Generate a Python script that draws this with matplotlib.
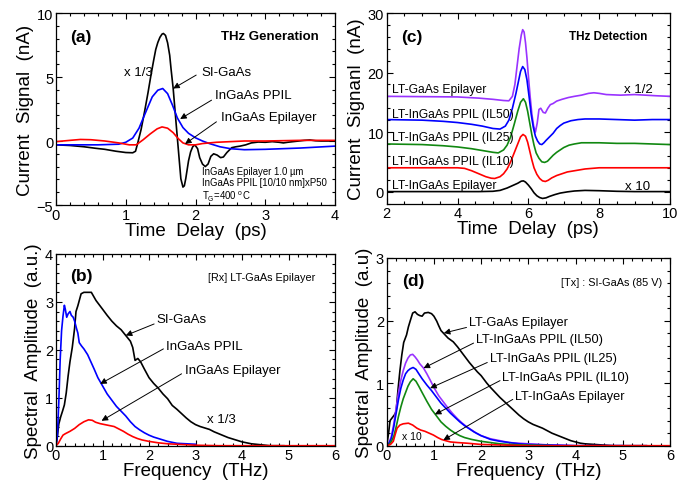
import matplotlib
matplotlib.use("Agg")
import matplotlib.pyplot as plt
from matplotlib.ticker import MultipleLocator

plt.rcParams['font.family'] = ['Liberation Sans', 'DejaVu Sans']
plt.rcParams['mathtext.fontset'] = 'custom'
plt.rcParams['mathtext.rm'] = 'Liberation Sans'

# ---------------- Panel (a): THz generation, time domain ----------------
a_si_gaas = [(0.0, -0.3), (0.2, -0.35), (0.4, -0.45), (0.57, -0.57), (0.7, -0.65), (0.86, -0.8),
             (1.0, -0.9), (1.1, -0.92), (1.14, -0.8), (1.17, -0.2), (1.22, 0.9), (1.27, 2.3),
             (1.32, 3.8), (1.36, 5.1), (1.4, 6.3), (1.43, 7.15), (1.46, 7.7), (1.49, 8.1),
             (1.52, 8.35), (1.54, 8.4), (1.57, 8.25), (1.6, 7.67), (1.63, 6.7), (1.65, 5.6),
             (1.68, 4.1), (1.72, 1.5), (1.76, -1.05), (1.79, -2.95), (1.82, -3.6), (1.84, -3.5),
             (1.86, -2.95), (1.9, -1.55), (1.93, -0.85), (1.96, -0.45), (1.99, -0.3), (2.03, -0.6),
             (2.06, -1.3), (2.1, -1.8), (2.14, -2.0), (2.18, -1.8), (2.22, -1.2), (2.26, -1.0),
             (2.31, -1.1), (2.36, -1.3), (2.4, -1.25), (2.45, -0.9), (2.52, -0.52), (2.58, -0.45),
             (2.64, -0.4), (2.72, -0.3), (2.8, -0.15), (2.9, -0.08), (3.0, -0.1), (3.1, -0.05),
             (3.2, -0.1), (3.26, -0.15), (3.32, -0.1), (3.4, -0.05), (3.48, 0.0), (3.56, 0.05),
             (3.64, 0.08), (3.72, 0.02), (3.8, 0.0), (3.9, 0.0), (4.0, 0.0)]
a_ppil = [(0.0, -0.3), (0.3, -0.3), (0.6, -0.3), (0.9, -0.25), (1.0, -0.1), (1.1, 0.23),
          (1.19, 1.0), (1.29, 2.3), (1.38, 3.45), (1.46, 3.97), (1.53, 4.1), (1.6, 3.7),
          (1.67, 2.8), (1.74, 1.8), (1.82, 1.05), (1.9, 0.6), (2.0, 0.25), (2.1, 0.0),
          (2.2, -0.2), (2.35, -0.45), (2.5, -0.6), (2.7, -0.68), (3.0, -0.65), (3.5, -0.55),
          (4.0, -0.4)]
a_epi = [(0.0, -0.05), (0.2, 0.05), (0.35, 0.12), (0.5, 0.1), (0.7, 0.0), (0.9, -0.15),
         (1.05, -0.3), (1.15, -0.3), (1.25, 0.1), (1.35, 0.55), (1.45, 0.95), (1.52, 1.1),
         (1.6, 1.0), (1.68, 0.65), (1.75, 0.2), (1.82, -0.15), (1.9, -0.3), (2.0, -0.3),
         (2.1, -0.2), (2.3, -0.1), (2.5, -0.05), (2.7, 0.0), (3.0, 0.0), (3.5, 0.05), (4.0, 0.05)]

# ---------------- Panel (b): THz generation spectra ----------------
b_si_gaas = [(0.0, 0.0), (0.03, 0.2), (0.06, 0.45), (0.1, 0.6), (0.14, 0.72), (0.18, 0.85),
             (0.22, 1.1), (0.26, 1.45), (0.3, 1.75), (0.35, 2.05), (0.4, 2.45), (0.43, 2.8),
             (0.47, 2.92), (0.54, 3.17), (0.6, 3.2), (0.7, 3.2), (0.76, 3.2), (0.86, 3.03),
             (1.0, 2.85), (1.1, 2.72), (1.2, 2.6), (1.3, 2.5), (1.4, 2.42), (1.5, 2.3),
             (1.6, 2.18), (1.65, 2.05), (1.7, 1.78), (1.76, 1.82), (1.82, 1.75), (1.9, 1.6),
             (2.0, 1.42), (2.1, 1.3), (2.2, 1.2), (2.3, 1.08), (2.4, 0.98), (2.5, 0.84),
             (2.6, 0.76), (2.7, 0.67), (2.8, 0.58), (2.9, 0.5), (3.0, 0.44), (3.1, 0.4),
             (3.2, 0.37), (3.3, 0.34), (3.4, 0.29), (3.5, 0.25), (3.6, 0.21), (3.7, 0.17),
             (3.8, 0.14), (3.9, 0.11), (4.0, 0.08), (4.1, 0.06), (4.2, 0.04), (4.3, 0.03),
             (4.4, 0.02), (4.5, 0.01), (4.6, 0.0), (4.9, 0.0)]
b_ppil = [(0.0, 0.0), (0.03, 0.2), (0.06, 0.9), (0.09, 1.8), (0.12, 2.4), (0.15, 2.7),
          (0.18, 2.93), (0.2, 2.85), (0.23, 2.68), (0.26, 2.75), (0.3, 2.8), (0.33, 2.72),
          (0.37, 2.68), (0.4, 2.6), (0.44, 2.45), (0.47, 2.35), (0.5, 2.15), (0.55, 2.08),
          (0.6, 2.02), (0.68, 1.9), (0.75, 1.75), (0.82, 1.6), (0.9, 1.42), (1.0, 1.25),
          (1.1, 1.08), (1.2, 0.95), (1.3, 0.82), (1.4, 0.72), (1.5, 0.62), (1.6, 0.5),
          (1.7, 0.4), (1.8, 0.33), (1.9, 0.27), (2.0, 0.22), (2.1, 0.18), (2.2, 0.15),
          (2.3, 0.12), (2.4, 0.09), (2.5, 0.07), (2.6, 0.05), (2.8, 0.04), (3.0, 0.03)]
b_epi = [(0.0, 0.0), (0.05, 0.05), (0.1, 0.14), (0.15, 0.22), (0.2, 0.25), (0.3, 0.3),
         (0.4, 0.36), (0.5, 0.44), (0.6, 0.5), (0.7, 0.54), (0.78, 0.53), (0.85, 0.49),
         (0.95, 0.46), (1.05, 0.44), (1.15, 0.42), (1.25, 0.4), (1.35, 0.35), (1.45, 0.3),
         (1.55, 0.24), (1.65, 0.19), (1.75, 0.15), (1.85, 0.12), (2.0, 0.09), (2.2, 0.06),
         (2.4, 0.04), (2.6, 0.03), (2.8, 0.02), (3.0, 0.01), (3.5, 0.0), (6.0, 0.0)]

# ---------------- Panel (c): THz detection, time domain ----------------
c_ltgaas = [(2.0, 16.0), (3.0, 15.95), (4.0, 15.9), (4.6, 15.7), (5.0, 15.5), (5.3, 15.3),
            (5.45, 15.25), (5.55, 16.0), (5.62, 18.0), (5.68, 21.0), (5.74, 24.0), (5.8, 26.3),
            (5.84, 27.2), (5.88, 26.8), (5.92, 25.0), (5.96, 22.5), (6.0, 19.5), (6.05, 16.0),
            (6.1, 13.0), (6.15, 11.0), (6.2, 10.0), (6.25, 11.5), (6.3, 13.8), (6.35, 14.0),
            (6.42, 13.3), (6.48, 13.2), (6.55, 14.0), (6.62, 14.6), (6.7, 14.8), (6.8, 15.2),
            (6.95, 15.5), (7.13, 15.8), (7.3, 16.0), (7.5, 16.2), (7.7, 16.5), (7.85, 16.6),
            (8.0, 16.5), (8.2, 16.3), (8.6, 16.2), (9.0, 16.3), (9.3, 16.2), (9.6, 16.1),
            (10.0, 16.0)]
c_il50 = [(2.0, 12.1), (3.0, 12.0), (3.6, 11.8), (4.0, 11.6), (4.4, 11.3), (4.7, 11.0),
          (5.0, 10.6), (5.2, 10.5), (5.35, 11.0), (5.45, 12.0), (5.55, 14.0), (5.65, 16.5),
          (5.72, 18.5), (5.78, 20.2), (5.84, 21.0), (5.9, 20.5), (5.96, 18.8), (6.02, 16.0),
          (6.08, 13.0), (6.14, 10.8), (6.2, 9.3), (6.26, 8.5), (6.32, 8.0), (6.38, 7.9),
          (6.44, 8.2), (6.5, 8.6), (6.6, 9.2), (6.7, 9.8), (6.8, 10.6), (6.9, 11.1),
          (7.0, 11.5), (7.2, 11.9), (7.4, 12.1), (7.6, 12.2), (8.0, 12.2), (8.5, 12.1),
          (9.0, 12.0), (9.5, 12.1), (10.0, 12.1)]
c_il25 = [(2.0, 8.0), (3.0, 7.9), (3.6, 7.7), (4.0, 7.5), (4.4, 7.2), (4.8, 6.8), (5.0, 6.6),
          (5.15, 6.5), (5.3, 7.0), (5.4, 7.8), (5.5, 9.2), (5.6, 11.3), (5.7, 13.5), (5.78, 15.0),
          (5.86, 15.6), (5.92, 15.0), (5.98, 13.5), (6.04, 11.5), (6.1, 9.5), (6.16, 7.8),
          (6.22, 6.5), (6.3, 5.6), (6.38, 5.0), (6.46, 4.9), (6.54, 5.1), (6.62, 5.6), (6.7, 6.1),
          (6.8, 6.6), (6.9, 7.0), (7.0, 7.4), (7.15, 7.8), (7.3, 8.0), (7.5, 8.2), (8.0, 8.2),
          (8.5, 8.1), (9.0, 8.1), (9.5, 8.0), (10.0, 7.9)]
c_il10 = [(2.0, 4.0), (3.0, 4.0), (4.0, 4.0), (4.2, 3.9), (4.4, 3.5), (4.6, 3.0), (4.8, 2.5),
          (4.95, 2.25), (5.05, 2.2), (5.2, 2.5), (5.3, 3.0), (5.4, 3.8), (5.5, 5.0), (5.6, 6.5),
          (5.7, 8.0), (5.78, 9.2), (5.85, 9.6), (5.92, 9.3), (5.98, 8.3), (6.04, 6.8),
          (6.1, 5.3), (6.16, 4.0), (6.24, 2.9), (6.32, 2.2), (6.4, 1.8), (6.48, 1.7),
          (6.56, 1.9), (6.66, 2.3), (6.8, 2.7), (6.95, 3.0), (7.1, 3.3), (7.3, 3.5), (7.6, 3.8),
          (8.0, 4.0), (8.5, 4.0), (9.0, 4.0), (10.0, 4.0)]
c_epi = [(2.0, 0.0), (3.0, 0.0), (4.0, 0.0), (4.6, 0.0), (5.0, 0.05), (5.2, 0.2), (5.4, 0.6),
         (5.55, 1.0), (5.7, 1.4), (5.8, 1.75), (5.86, 1.8), (5.92, 1.6), (6.0, 1.1), (6.08, 0.5),
         (6.16, -0.2), (6.24, -0.7), (6.32, -1.0), (6.4, -1.15), (6.5, -1.05), (6.6, -0.8),
         (6.75, -0.5), (6.9, -0.25), (7.1, -0.05), (7.3, 0.1), (7.6, 0.2), (8.0, 0.15),
         (8.5, 0.05), (9.0, 0.0), (10.0, 0.0)]

# ---------------- Panel (d): THz detection spectra ----------------
d_ltgaas = [(0.0, 0.0), (0.04, 0.2), (0.07, 0.4), (0.12, 0.45), (0.17, 0.5), (0.2, 0.55),
            (0.24, 0.9), (0.28, 1.2), (0.32, 1.45), (0.36, 1.65), (0.42, 1.77), (0.46, 1.9),
            (0.5, 2.0), (0.55, 2.12), (0.6, 2.14), (0.65, 2.1), (0.7, 2.08), (0.75, 2.07),
            (0.8, 2.12), (0.88, 2.13), (0.95, 2.11), (1.0, 2.07), (1.06, 1.99), (1.1, 1.92),
            (1.15, 1.84), (1.2, 1.8), (1.3, 1.72), (1.41, 1.66), (1.5, 1.58), (1.62, 1.46),
            (1.7, 1.38), (1.75, 1.33), (1.84, 1.25), (1.92, 1.18), (2.0, 1.12), (2.12, 1.0),
            (2.2, 0.93), (2.3, 0.85), (2.4, 0.77), (2.5, 0.7), (2.6, 0.63), (2.7, 0.56),
            (2.8, 0.49), (2.9, 0.43), (3.0, 0.38), (3.1, 0.34), (3.2, 0.31), (3.3, 0.28),
            (3.4, 0.24), (3.5, 0.2), (3.6, 0.17), (3.7, 0.14), (3.8, 0.11), (3.9, 0.08),
            (4.0, 0.06), (4.1, 0.04), (4.2, 0.03), (4.4, 0.02), (4.6, 0.01), (4.8, 0.0),
            (5.5, 0.0)]
d_il50 = [(0.0, 0.0), (0.05, 0.05), (0.1, 0.15), (0.15, 0.35), (0.2, 0.6), (0.25, 0.85),
          (0.3, 1.05), (0.35, 1.2), (0.4, 1.32), (0.45, 1.4), (0.5, 1.45), (0.55, 1.46),
          (0.6, 1.42), (0.65, 1.37), (0.7, 1.31), (0.78, 1.24), (0.85, 1.15), (0.92, 1.05),
          (1.0, 0.93), (1.1, 0.8), (1.2, 0.7), (1.3, 0.6), (1.4, 0.51), (1.5, 0.43),
          (1.6, 0.36), (1.7, 0.3), (1.8, 0.25), (1.9, 0.2), (2.0, 0.16), (2.2, 0.11),
          (2.4, 0.08), (2.6, 0.05), (2.8, 0.04), (3.0, 0.03), (3.5, 0.01), (4.0, 0.0),
          (5.5, 0.0)]
d_il25 = [(0.0, 0.0), (0.05, 0.04), (0.1, 0.12), (0.15, 0.3), (0.2, 0.52), (0.25, 0.74),
          (0.3, 0.92), (0.35, 1.05), (0.4, 1.15), (0.45, 1.2), (0.5, 1.23), (0.56, 1.25),
          (0.62, 1.22), (0.68, 1.15), (0.75, 1.07), (0.85, 0.97), (0.95, 0.88), (1.05, 0.78),
          (1.15, 0.68), (1.25, 0.6), (1.35, 0.52), (1.45, 0.45), (1.55, 0.38), (1.65, 0.32),
          (1.75, 0.27), (1.85, 0.22), (2.0, 0.16), (2.2, 0.1), (2.4, 0.07), (2.6, 0.05),
          (2.8, 0.03), (3.0, 0.02), (3.5, 0.01), (4.0, 0.0), (5.0, 0.0)]
d_il10 = [(0.0, 0.0), (0.05, 0.02), (0.1, 0.07), (0.15, 0.15), (0.2, 0.3), (0.25, 0.47),
          (0.3, 0.62), (0.35, 0.75), (0.4, 0.85), (0.45, 0.95), (0.5, 1.02), (0.56, 1.07),
          (0.62, 1.03), (0.68, 0.95), (0.75, 0.85), (0.85, 0.71), (0.95, 0.58), (1.05, 0.48),
          (1.15, 0.38), (1.25, 0.31), (1.35, 0.25), (1.45, 0.2), (1.55, 0.16), (1.65, 0.13),
          (1.8, 0.1), (2.0, 0.07), (2.2, 0.05), (2.4, 0.03), (2.6, 0.02), (3.0, 0.01),
          (3.5, 0.0)]
d_epi = [(0.0, 0.0), (0.08, 0.02), (0.14, 0.07), (0.18, 0.18), (0.22, 0.28), (0.28, 0.33),
         (0.35, 0.35), (0.46, 0.36), (0.55, 0.33), (0.64, 0.28), (0.72, 0.25), (0.81, 0.23),
         (0.9, 0.2), (0.99, 0.17), (1.08, 0.13), (1.16, 0.1), (1.25, 0.08), (1.35, 0.06),
         (1.5, 0.05), (1.7, 0.04), (2.0, 0.02), (2.5, 0.01), (3.0, 0.0), (6.0, 0.0)]

BLACK, BLUE, RED, GREEN, PURPLE = '#000000', '#0000ff', '#ff0000', '#118811', '#9933ff'
LW = 1.2


def plot_pts(ax, pts, color):
    xs = [p[0] for p in pts]
    ys = [p[1] for p in pts]
    ax.plot(xs, ys, color=color, lw=LW, solid_joinstyle='round')


def style(ax, xmaj, xmin, ymaj, ymin):
    ax.xaxis.set_major_locator(MultipleLocator(xmaj))
    ax.xaxis.set_minor_locator(MultipleLocator(xmin))
    ax.yaxis.set_major_locator(MultipleLocator(ymaj))
    ax.yaxis.set_minor_locator(MultipleLocator(ymin))
    ax.tick_params(which='both', direction='in', top=True, right=True, width=0.8,
                   labelsize=10.5, pad=2)
    ax.tick_params(which='major', length=4.5)
    ax.tick_params(which='minor', length=2.5)
    for s in ax.spines.values():
        s.set_linewidth(0.9)


def arrow(ax, xy_tail, xy_head):
    ax.annotate('', xy=xy_head, xytext=xy_tail,
                arrowprops=dict(arrowstyle='-|>', color='black', lw=0.7,
                                mutation_scale=9, shrinkA=0, shrinkB=0))


fig = plt.figure(figsize=(6.78, 4.85), dpi=100)
W, H = 678.0, 485.0
axa = fig.add_axes([56 / W, 1 - 206 / H, 279 / W, 192 / H])
axc = fig.add_axes([386.7 / W, 1 - 204.5 / H, 283.3 / W, 190.5 / H])
axb = fig.add_axes([56 / W, 1 - 446.7 / H, 279 / W, 191.7 / H])
axd = fig.add_axes([386.7 / W, 1 - 446.7 / H, 283.3 / W, 187.7 / H])

LABEL_FS = 13.5
ANN_FS = 9.5

# ---- (a)
plot_pts(axa, a_si_gaas, BLACK)
plot_pts(axa, a_ppil, BLUE)
plot_pts(axa, a_epi, RED)
axa.set_xlim(0, 4)
axa.set_ylim(-5, 10)
style(axa, 1, 0.2, 5, 1)
axa.set_xlabel('Time  Delay  (ps)', fontsize=LABEL_FS, labelpad=0)
axa.set_ylabel('Current  Signal  (nA)', fontsize=LABEL_FS, labelpad=2)
axa.text(0.2, 8.2, '(a)', fontsize=12.5, fontweight='bold', va='center')
axa.text(3.76, 8.2, 'THz Generation', fontsize=9.5, fontweight='bold', va='center', ha='right')
axa.text(1.39, 5.4, 'x 1/3', fontsize=ANN_FS, va='center', ha='right')
axa.text(2.09, 5.4, 'SI-GaAs', fontsize=ANN_FS, va='center')
arrow(axa, (2.01, 5.15), (1.68, 4.1))
axa.text(2.28, 3.57, 'InGaAs PPIL', fontsize=ANN_FS, va='center')
arrow(axa, (2.23, 3.19), (1.78, 1.72))
axa.text(2.36, 1.9, 'InGaAs Epilayer', fontsize=ANN_FS, va='center')
arrow(axa, (2.30, 1.5), (1.85, -0.23))
axa.text(2.09, -2.38, 'InGaAs Epilayer 1.0 \u00b5m', fontsize=6.9, va='center')
axa.text(2.09, -3.2, 'InGaAs PPIL [10/10 nm]xP50', fontsize=6.9, va='center')
axa.text(2.09, -4.25, 'T$_\\mathregular{G}$=400 $^\\mathregular{o}$C', fontsize=6.9, va='center')

# ---- (b)
plot_pts(axb, b_si_gaas, BLACK)
plot_pts(axb, b_ppil, BLUE)
plot_pts(axb, b_epi, RED)
axb.set_xlim(0, 6)
axb.set_ylim(0, 4)
style(axb, 1, 0.2, 1, 0.2)
axb.set_xlabel('Frequency  (THz)', fontsize=LABEL_FS, labelpad=0)
axb.set_ylabel('Spectral  Amplitude  (a.u.)', fontsize=LABEL_FS, labelpad=2)
axb.text(0.3, 3.56, '(b)', fontsize=12.5, fontweight='bold', va='center')
axb.text(5.58, 3.52, '[Rx] LT-GaAs Epilayer', fontsize=7.8, va='center', ha='right')
axb.text(2.17, 2.65, 'SI-GaAs', fontsize=ANN_FS, va='center')
arrow(axb, (2.11, 2.54), (1.5, 2.3))
axb.text(2.37, 2.09, 'InGaAs PPIL', fontsize=ANN_FS, va='center')
arrow(axb, (2.31, 2.02), (0.95, 1.29))
axb.text(2.77, 1.58, 'InGaAs Epilayer', fontsize=ANN_FS, va='center')
arrow(axb, (2.70, 1.5), (0.98, 0.52))
axb.text(3.24, 0.56, 'x 1/3', fontsize=ANN_FS, va='center')

# ---- (c)
plot_pts(axc, c_ltgaas, PURPLE)
plot_pts(axc, c_il50, BLUE)
plot_pts(axc, c_il25, GREEN)
plot_pts(axc, c_il10, RED)
plot_pts(axc, c_epi, BLACK)
axc.set_xlim(2, 10)
axc.set_ylim(-2, 30)
style(axc, 2, 0.5, 10, 2)
axc.set_xlabel('Time  Delay  (ps)', fontsize=LABEL_FS, labelpad=0)
axc.set_ylabel('Current  Signanl  (nA)', fontsize=LABEL_FS, labelpad=2)
axc.text(2.42, 26.1, '(c)', fontsize=12.5, fontweight='bold', va='center')
axc.text(9.35, 26.1, 'THz Detection', fontsize=8.5, fontweight='bold', va='center', ha='right')
C_FS = 8.7
axc.text(2.14, 17.2, 'LT-GaAs Epilayer', fontsize=C_FS, va='center')
axc.text(2.14, 13.0, 'LT-InGaAs PPIL (IL50)', fontsize=C_FS, va='center')
axc.text(2.14, 9.1, 'LT-InGaAs PPIL (IL25)', fontsize=C_FS, va='center')
axc.text(2.14, 5.1, 'LT-InGaAs PPIL (IL10)', fontsize=C_FS, va='center')
axc.text(2.14, 1.15, 'LT-InGaAs Epilayer', fontsize=C_FS, va='center')
axc.text(8.69, 17.2, 'x 1/2', fontsize=ANN_FS, va='center')
axc.text(8.73, 1.0, 'x 10', fontsize=ANN_FS, va='center')

# ---- (d)
plot_pts(axd, d_ltgaas, BLACK)
plot_pts(axd, d_il50, PURPLE)
plot_pts(axd, d_il25, BLUE)
plot_pts(axd, d_il10, GREEN)
plot_pts(axd, d_epi, RED)
axd.set_xlim(0, 6)
axd.set_ylim(0, 3)
style(axd, 1, 0.2, 1, 0.2)
axd.set_xlabel('Frequency  (THz)', fontsize=LABEL_FS, labelpad=0)
axd.set_ylabel('Spectral  Amplitude  (a.u)', fontsize=LABEL_FS, labelpad=2)
axd.text(0.32, 2.64, '(d)', fontsize=12.5, fontweight='bold', va='center')
axd.text(5.83, 2.62, '[Tx] : SI-GaAs (85 V)', fontsize=7.8, va='center', ha='right')
D_FS = 9.2
axd.text(1.75, 1.97, 'LT-GaAs Epilayer', fontsize=D_FS, va='center')
arrow(axd, (1.69, 1.89), (1.21, 1.80))
axd.text(1.89, 1.71, 'LT-InGaAs PPIL (IL50)', fontsize=D_FS, va='center')
arrow(axd, (1.84, 1.64), (0.78, 1.24))
axd.text(2.19, 1.40, 'LT-InGaAs PPIL (IL25)', fontsize=D_FS, va='center')
arrow(axd, (2.13, 1.33), (0.92, 0.92))
axd.text(2.44, 1.10, 'LT-InGaAs PPIL (IL10)', fontsize=D_FS, va='center')
arrow(axd, (2.40, 1.04), (1.02, 0.50))
axd.text(2.72, 0.80, 'LT-InGaAs Epilayer', fontsize=D_FS, va='center')
arrow(axd, (2.67, 0.74), (1.2, 0.09))
axd.text(0.32, 0.15, 'x 10', fontsize=7.5, va='center')

fig.savefig('out.png', dpi=100)
